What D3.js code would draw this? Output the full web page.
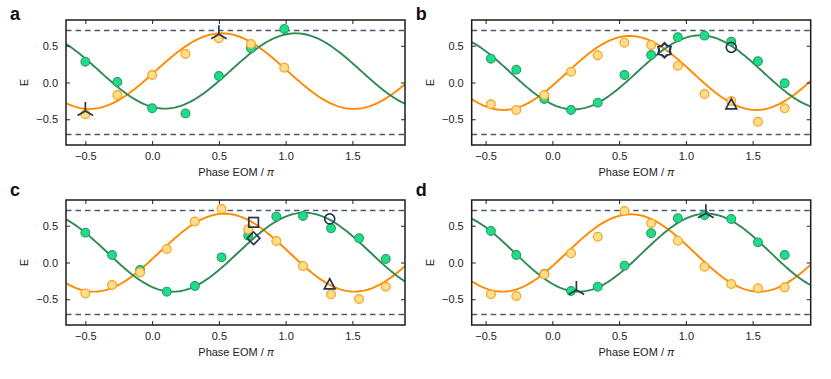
<!DOCTYPE html>
<html>
<head>
<meta charset="utf-8">
<script src="https://cdn.jsdelivr.net/npm/d3@7"></script>
<style>
  body { margin: 0; background: #fff; }
  svg { font-family: "Liberation Sans", Arial, sans-serif; }
  .tick text { font-size: 11px; fill: #222; }
  .tick line { stroke: #222; stroke-width: 1; }
  .domain { display: none; }
</style>
</head>
<body>
<script>
// phase values (units of pi) for each panel
const phaseA = [-0.5, -0.26, 0.0, 0.25, 0.5, 0.74, 0.99]
const phaseB = [-0.46, -0.27, -0.06, 0.14, 0.34, 0.54, 0.74, 0.94, 1.14, 1.34, 1.54, 1.74]
const phaseC = [-0.5, -0.3, -0.09, 0.11, 0.32, 0.52, 0.72, 0.93, 1.13, 1.34, 1.55, 1.75]
const phaseD = [-0.46, -0.27, -0.06, 0.14, 0.34, 0.54, 0.74, 0.94, 1.14, 1.34, 1.54, 1.74]

// measured E, green series
const greenA = [0.283, 0.007, -0.351, -0.42, 0.088, 0.465, 0.728]
const greenB = [0.324, 0.175, -0.224, -0.374, -0.274, 0.102, 0.374, 0.615, 0.637, 0.556, 0.288, -0.011]
const greenC = [0.406, 0.102, -0.102, -0.397, -0.32, 0.07, 0.365, 0.624, 0.633, 0.465, 0.329, 0.048]
const greenD = [0.429, 0.102, -0.156, -0.388, -0.329, -0.043, 0.397, 0.601, 0.646, 0.592, 0.274, 0.102]

// measured E, orange series
const orangeA = [-0.433, -0.17, 0.102, 0.388, 0.601, 0.524, 0.202]
const orangeB = [-0.297, -0.374, -0.17, 0.147, 0.37, 0.542, 0.51, 0.229, -0.156, -0.252, -0.533, -0.351]
const orangeC = [-0.42, -0.306, -0.134, 0.184, 0.556, 0.728, 0.451, 0.293, -0.048, -0.433, -0.497, -0.329]
const orangeD = [-0.433, -0.456, -0.161, 0.125, 0.351, 0.701, 0.533, 0.297, -0.057, -0.293, -0.351, -0.338]

// fit parameters [offset, amplitude, phase of maximum, frequency]
const fitGreen = [[0.157, 0.512, 1.075, 1.02], [0.138, 0.503, 1.107, 1.055], [0.14, 0.537, 1.14, 1.015], [0.134, 0.53, 1.155, 1.043]]
const fitOrange = [[0.155, 0.514, 0.52, 1.01], [0.13, 0.503, 0.58, 1.056], [0.134, 0.53, 0.54, 1.025], [0.13, 0.526, 0.587, 1.04]]

// special markers [phase, E, shape]
const markersA = [[-0.5, -0.388, "tri"], [0.5, 0.656, "tri"]]
const markersB = [[0.84, 0.438, "hex"], [1.34, 0.478, "circle"], [1.34, -0.297, "triangle"]]
const markersC = [[0.76, 0.546, "square"], [0.76, 0.329, "diamond"], [1.33, 0.592, "circle"], [1.33, -0.297, "triangle"]]
const markersD = [[0.18, -0.374, "tri"], [1.15, 0.669, "tri"]]

const xTicks = [-0.5, 0.0, 0.5, 1.0, 1.5]
const yTicks = [-0.5, 0.0, 0.5]
const bound = 0.707  // 1/sqrt(2)

const panels = [
    {letter: "a", left: 66, top: 20, xdom: [-0.645, 1.894], phase: phaseA, green: greenA, orange: orangeA, fit: 0, markers: markersA},
    {letter: "b", left: 471.7, top: 20, xdom: [-0.604, 1.935], phase: phaseB, green: greenB, orange: orangeB, fit: 1, markers: markersB},
    {letter: "c", left: 66, top: 200, xdom: [-0.645, 1.894], phase: phaseC, green: greenC, orange: orangeC, fit: 2, markers: markersC},
    {letter: "d", left: 471.7, top: 200, xdom: [-0.604, 1.935], phase: phaseD, green: greenD, orange: orangeD, fit: 3, markers: markersD}
]

const W = 339, H = 125
const markColor = "#27364f"

let svg = d3.select("body").append("svg")
    .attr("width", 831)
    .attr("height", 379)

panels.forEach((p, i) => {
    let x = d3.scaleLinear().domain(p.xdom).range([0, W])
    let y = d3.scaleLinear().domain([-0.85, 0.85]).range([H, 0])

    let g = svg.append("g").attr("transform", `translate(${p.left},${p.top})`)

    // panel letter
    svg.append("text")
        .attr("x", p.left - 56)
        .attr("y", p.top - (p.top > 100 ? 4 : 0.5))
        .attr("font-size", 18)
        .attr("font-weight", "bold")
        .attr("fill", "#111")
        .text(p.letter)

    g.append("clipPath").attr("id", "clip" + i)
        .append("rect").attr("width", W).attr("height", H)

    // dashed bounds
    g.selectAll(".bound")
        .data([bound, -bound])
        .enter()
        .append("line")
        .attr("x1", 0).attr("x2", W)
        .attr("y1", d => y(d)).attr("y2", d => y(d))
        .attr("stroke", "#4b5a70")
        .attr("stroke-width", 1.3)
        .attr("stroke-dasharray", "5.5,4")

    // fitted curves
    let xs = d3.range(p.xdom[0], p.xdom[1] + 0.01, 0.01)
    let curve = prm => d3.line()
        .x(d => x(d))
        .y(d => y(prm[0] + prm[1] * Math.cos(prm[3] * Math.PI * (d - prm[2]))))(xs)

    let curves = g.append("g").attr("clip-path", `url(#clip${i})`)
    curves.append("path").attr("d", curve(fitOrange[p.fit]))
        .attr("fill", "none").attr("stroke", "#ff8a00").attr("stroke-width", 1.9)
    curves.append("path").attr("d", curve(fitGreen[p.fit]))
        .attr("fill", "none").attr("stroke", "#2f8a56").attr("stroke-width", 1.9)

    // data points
    g.selectAll(".pg")
        .data(p.phase.map((v, k) => [v, p.green[k]]))
        .enter()
        .append("circle")
        .attr("cx", d => x(d[0])).attr("cy", d => y(d[1]))
        .attr("r", 4.4)
        .attr("fill", "#1fdc8c")
        .attr("stroke", "#2a9c5c")
        .attr("stroke-width", 1.1)
    g.selectAll(".po")
        .data(p.phase.map((v, k) => [v, p.orange[k]]))
        .enter()
        .append("circle")
        .attr("cx", d => x(d[0])).attr("cy", d => y(d[1]))
        .attr("r", 4.4)
        .attr("fill", "#f7df8e")
        .attr("stroke", "#ffa11c")
        .attr("stroke-width", 1.2)

    // special markers
    p.markers.forEach(m => {
        let mx = x(m[0]), my = y(m[1])
        let mg = g.append("g").attr("transform", `translate(${mx},${my})`)
            .attr("fill", "none").attr("stroke", markColor).attr("stroke-width", 1.7)
        if (m[2] === "tri") {
            let r = 9
            let angles = [-90, 30, 150]
            angles.forEach(a => {
                mg.append("line").attr("x1", 0).attr("y1", 0)
                    .attr("x2", r * Math.cos(a * Math.PI / 180))
                    .attr("y2", r * Math.sin(a * Math.PI / 180))
            })
        } else if (m[2] === "circle") {
            mg.append("circle").attr("r", 5)
        } else if (m[2] === "square") {
            mg.append("rect").attr("x", -4.8).attr("y", -4.8).attr("width", 9.6).attr("height", 9.6)
        } else if (m[2] === "diamond") {
            mg.append("path").attr("d", "M0,-6.3 L6.3,0 L0,6.3 L-6.3,0 Z")
        } else if (m[2] === "triangle") {
            mg.append("path").attr("d", "M0,-5.6 L5.4,4.6 L-5.4,4.6 Z")
        } else if (m[2] === "hex") {
            let pts = d3.range(12).map(k => {
                let a = (k * 30 - 90) * Math.PI / 180
                let r = k % 2 === 0 ? 7.2 : 5.3
                return [r * Math.cos(a), r * Math.sin(a)]
            })
            mg.append("path").attr("d", "M" + pts.join("L") + "Z").attr("stroke-width", 2.2)
        }
    })

    // axes, ticks inward on all four sides
    g.append("g").attr("transform", `translate(0,${H})`)
        .call(d3.axisBottom(x).tickValues(xTicks).tickSize(-4).tickPadding(7).tickFormat(d3.format(".1f")))
    g.append("g")
        .call(d3.axisTop(x).tickValues(xTicks).tickSize(-4).tickFormat(""))
    g.append("g")
        .call(d3.axisLeft(y).tickValues(yTicks).tickSize(-4).tickPadding(8).tickFormat(d3.format(".1f")))
    g.append("g").attr("transform", `translate(${W},0)`)
        .call(d3.axisRight(y).tickValues(yTicks).tickSize(-4).tickFormat(""))

    g.append("rect")
        .attr("width", W).attr("height", H)
        .attr("fill", "none")
        .attr("stroke", "#1c1c1c")
        .attr("stroke-width", 1.5)

    // axis labels
    g.append("text")
        .attr("transform", `translate(-38,${H / 2}) rotate(-90)`)
        .attr("text-anchor", "middle")
        .attr("font-size", 11)
        .attr("fill", "#222")
        .text("E")
    let xl = g.append("text")
        .attr("x", x(0.63)).attr("y", H + 31)
        .attr("text-anchor", "middle")
        .attr("font-size", 11)
        .attr("fill", "#222")
    xl.append("tspan").text("Phase EOM / ")
    xl.append("tspan").attr("font-style", "italic").text("π")
})
</script>
</body>
</html>
